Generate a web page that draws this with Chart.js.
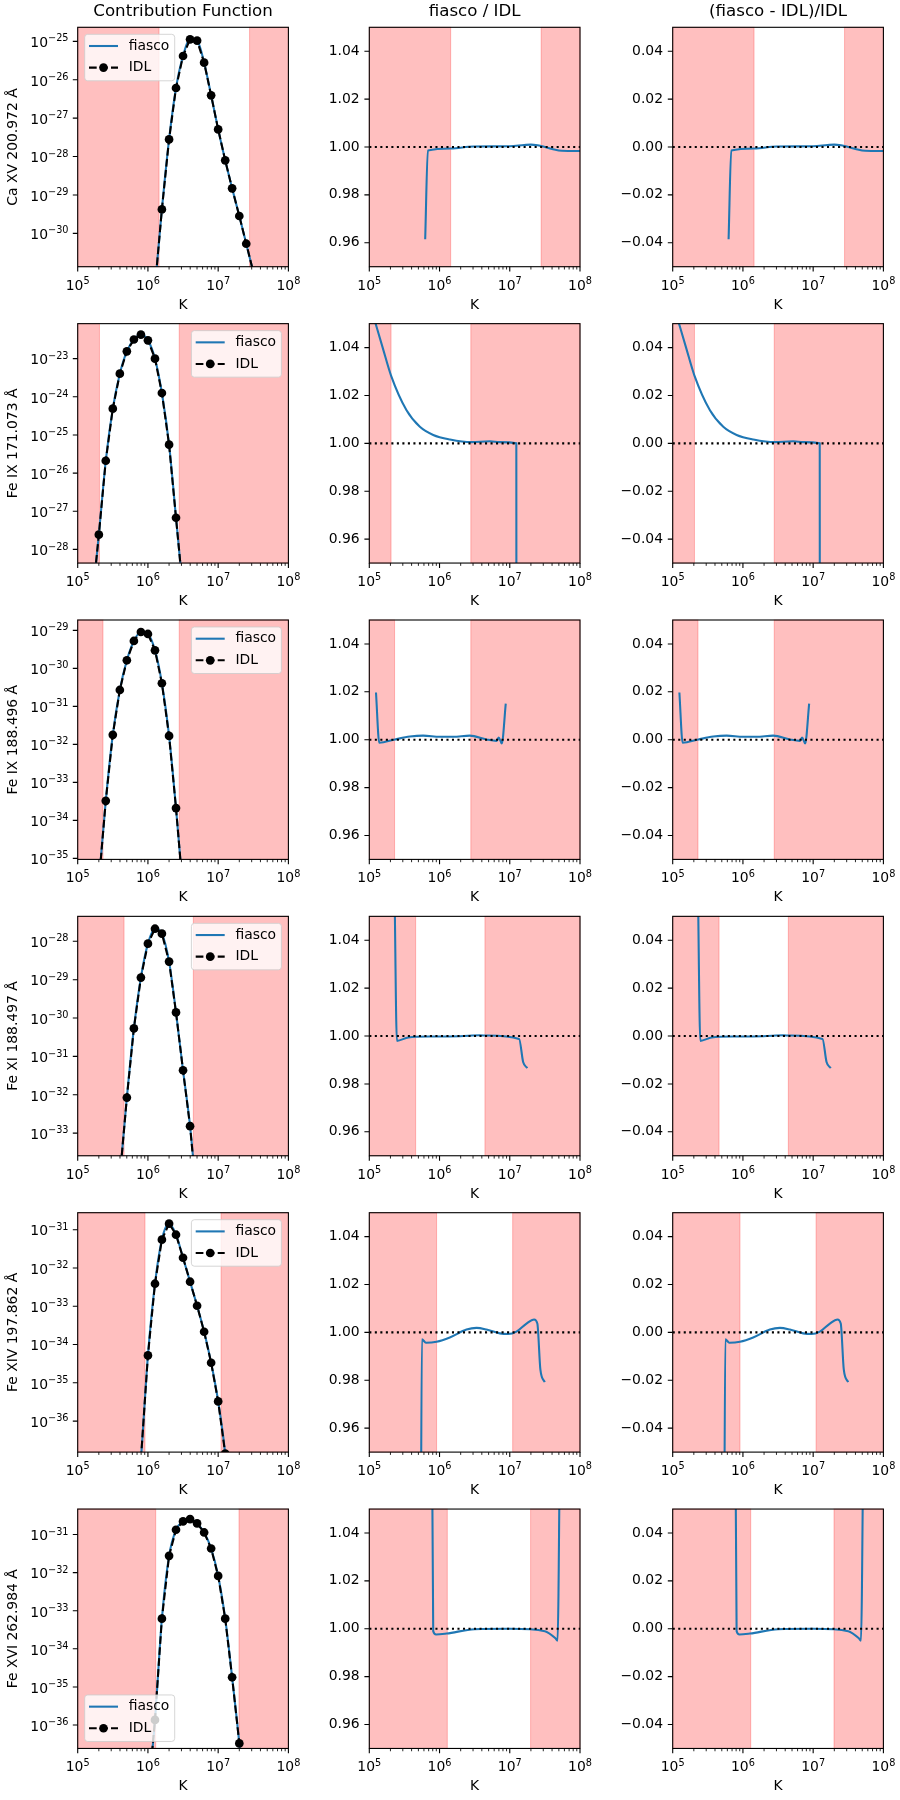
<!DOCTYPE html>
<html><head><meta charset="utf-8">
<script src="https://cdn.jsdelivr.net/npm/chart.js@4.4.0/dist/chart.umd.min.js"></script>
<style>
html,body{margin:0;padding:0;background:#fff;width:900px;height:1800px;overflow:hidden;position:relative;}
canvas{position:absolute;}
</style></head><body>
<script>
// ---------------- DATA ----------------
const columnTitles = ["Contribution Function", "fiasco / IDL", "(fiasco - IDL)/IDL"];
const lineLabels = ["Ca XV 200.972 Å", "Fe IX 171.073 Å", "Fe IX 188.496 Å", "Fe XI 188.497 Å", "Fe XIV 197.862 Å", "Fe XVI 262.984 Å"];
const xTickValues = [1e5, 1e6, 1e7, 1e8];
const ratioTicks = [0.96, 0.98, 1.00, 1.02, 1.04];
const diffTicks = [-0.04, -0.02, 0.00, 0.02, 0.04];

// contribution functions (K, erg cm^3 s^-1 sr^-1)
const tempCaXV = [1.26e6, 1.58e6, 2.00e6, 2.51e6, 3.16e6, 3.98e6, 5.01e6, 6.31e6, 7.94e6, 1.00e7, 1.26e7, 1.58e7, 2.00e7, 2.51e7, 3.16e7];
const gCaXV = [4.0e-32, 4.2e-30, 2.8e-28, 6.1e-27, 4.15e-26, 1.13e-25, 1.04e-25, 2.78e-26, 3.93e-27, 5.1e-28, 7.96e-29, 1.49e-29, 2.83e-30, 5.38e-31, 1.0e-31];
const tempFeIX171 = [1.58e5, 2.00e5, 2.51e5, 3.16e5, 3.98e5, 5.01e5, 6.31e5, 7.94e5, 1.00e6, 1.26e6, 1.58e6, 2.00e6, 2.51e6, 3.16e6];
const gFeIX171 = [3.2e-30, 2.43e-28, 2.11e-26, 4.89e-25, 4.05e-24, 1.56e-23, 3.18e-23, 4.26e-23, 3.02e-23, 1.0e-23, 1.26e-24, 5.56e-26, 6.76e-28, 7.9e-30];
const tempFeIX188 = [2.00e5, 2.51e5, 3.16e5, 3.98e5, 5.01e5, 6.31e5, 7.94e5, 1.00e6, 1.26e6, 1.58e6, 2.00e6, 2.51e6, 3.16e6];
const gFeIX188 = [2.34e-36, 3.27e-34, 1.78e-32, 2.7e-31, 1.63e-30, 5.25e-30, 9.03e-30, 8.02e-30, 2.98e-30, 4.05e-31, 1.67e-32, 2.1e-34, 1.38e-36];
const tempFeXI = [3.98e5, 5.01e5, 6.31e5, 7.94e5, 1.00e6, 1.26e6, 1.58e6, 2.00e6, 2.51e6, 3.16e6, 3.98e6, 5.01e6];
const gFeXI = [7.1e-35, 8.45e-33, 5.37e-31, 1.135e-29, 8.69e-29, 2.13e-28, 1.58e-28, 2.96e-29, 1.4e-30, 4.35e-32, 1.52e-33, 1.6e-35];
const tempFeXIV = [6.31e5, 7.94e5, 1.00e6, 1.26e6, 1.58e6, 2.00e6, 2.51e6, 3.16e6, 3.98e6, 5.01e6, 6.31e6, 7.94e6, 1.00e7, 1.26e7, 1.58e7];
const gFeXIV = [1e-39, 1e-37, 5.2e-35, 3.88e-33, 5.48e-32, 1.44e-31, 7.4e-32, 1.85e-32, 4.38e-33, 1.03e-33, 2.16e-34, 3.34e-35, 3.27e-36, 1.41e-37, 1e-39];
const tempFeXVI = [1.00e6, 1.26e6, 1.58e6, 2.00e6, 2.51e6, 3.16e6, 3.98e6, 5.01e6, 6.31e6, 7.94e6, 1.00e7, 1.26e7, 1.58e7, 2.00e7, 2.51e7];
const gFeXVI = [1.26e-38, 1.36e-36, 6.17e-34, 2.75e-32, 1.33e-31, 2.2e-31, 2.54e-31, 1.95e-31, 1.13e-31, 4.29e-32, 8.17e-33, 6.17e-34, 1.79e-35, 3.3e-37, 3.2e-39];

// y limits of contribution function panels
const gYMin = [1.355e-31, 4.39e-29, 9.4e-36, 2.58e-34, 1.55e-37, 2.43e-37];
const gYMax = [2.32e-25, 8.28e-23, 1.87e-29, 4.47e-28, 2.78e-31, 4.65e-31];

// shaded (excluded) temperature ranges
const shadeLow = [1.44e6, 2.04e5, 2.29e5, 4.57e5, 9.08e5, 1.29e6];
const shadeHigh = [2.8e7, 2.79e6, 2.79e6, 4.43e6, 1.10e7, 1.98e7];
const legendLoc = ["upper left", "upper right", "upper right", "upper right", "upper right", "lower left"];

// fiasco / IDL ratio
const rTempCaXV = [6.25e5, 6.82e5, 1.45e6, 3.0e6, 1.0e7, 1.6e7, 2.0e7, 2.5e7, 3.0e7, 4.0e7, 5.5e7, 1.0e8];
const rCaXV = [0.9615, 0.9985, 0.9994, 1.0002, 1.0003, 1.0008, 1.0010, 1.0007, 1.0002, 0.9992, 0.9984, 0.9983];
const rTempFeIX171 = [1.0e5, 1.23e5, 1.55e5, 2.04e5, 3.39e5, 5.25e5, 8.13e5, 1.41e6, 2.82e6, 5.2e6, 7.21e6, 1.24e7, 1.26e7];
const rFeIX171 = [1.059, 1.050, 1.040, 1.0283, 1.0138, 1.0069, 1.0035, 1.0016, 1.0005, 1.0009, 1.0005, 1.0000, 0.50];
const rTempFeIX188 = [1.245e5, 1.387e5, 2.32e5, 3.78e5, 5.86e5, 1.01e6, 1.56e6, 2.70e6, 4.66e6, 6.46e6, 6.98e6, 7.69e6, 8.77e6];
const rFeIX188 = [1.0197, 0.9987, 1.0001, 1.0013, 1.0017, 1.0012, 1.0012, 1.0017, 1.0001, 0.9995, 1.0009, 0.9984, 1.0151];
const rTempFeXI = [2.29e5, 2.47e5, 3.59e5, 8.13e5, 1.95e6, 3.74e6, 4.66e6, 1.36e7, 1.55e7, 1.78e7];
const rFeXI = [1.06, 0.998, 0.9994, 0.9998, 0.9999, 1.0003, 1.0002, 0.9988, 0.9892, 0.9866];
const rTempFeXIV = [5.40e5, 5.61e5, 6.40e5, 9.06e5, 1.40e6, 2.42e6, 3.36e6, 4.66e6, 7.21e6, 9.46e6, 1.245e7, 1.73e7, 2.22e7, 2.47e7, 2.73e7, 3.15e7];
const rFeXIV = [0.90, 0.9971, 0.9957, 0.9961, 0.9979, 1.0012, 1.0019, 1.0012, 0.9996, 0.9993, 1.0003, 1.0037, 1.0054, 1.0037, 0.9844, 0.9792];
const rTempFeXVI = [7.76e5, 8.13e5, 8.91e5, 1.26e6, 3.16e6, 1.0e7, 3.16e7, 4.47e7, 4.79e7, 5.25e7];
const rFeXVI = [1.10, 0.999, 0.9976, 0.998, 0.9998, 1.0, 0.999, 0.996, 0.995, 1.10];

const gTemps = [tempCaXV, tempFeIX171, tempFeIX188, tempFeXI, tempFeXIV, tempFeXVI];
const gVals = [gCaXV, gFeIX171, gFeIX188, gFeXI, gFeXIV, gFeXVI];
const rTemps = [rTempCaXV, rTempFeIX171, rTempFeIX188, rTempFeXI, rTempFeXIV, rTempFeXVI];
const rVals = [rCaXV, rFeIX171, rFeIX188, rFeXI, rFeXIV, rFeXVI];

// ---------------- STYLE / LAYOUT ----------------
const FONT = "DejaVu Sans";
const FS = 13.9, FS_EXP = 9.73;
const BLUE = '#1f77b4';
const W_AX = 210.7, H_AX = 239.4;
const colAxLeft = [77.7, 369.3, 672.7];
const colCanvasLeft = [0, 300, 600];
const colCanvasWidth = [320, 320, 300];
const rowAxTop = r => 27.3 + 296.35 * r;
const TOPM = 28, BOTM = 50;
const fmtSigned = v => (v < -1e-9 ? '−' : '') + Math.abs(v).toFixed(2);

// draws "10" with a raised exponent (as matplotlib mathtext does)
function drawPow(ctx, value, x, baseline, align) {
  const e = Math.round(Math.log10(value));
  const expStr = (e < 0 ? '−' : '') + Math.abs(e);
  ctx.font = FS + 'px "' + FONT + '"';
  const wb = ctx.measureText('10').width;
  ctx.font = FS_EXP + 'px "' + FONT + '"';
  const we = ctx.measureText(expStr).width;
  const total = wb + we;
  const x0 = align === 'right' ? x - total : x - total / 2;
  ctx.textAlign = 'left';
  ctx.textBaseline = 'alphabetic';
  ctx.font = FS + 'px "' + FONT + '"';
  ctx.fillText('10', x0, baseline);
  ctx.font = FS_EXP + 'px "' + FONT + '"';
  ctx.fillText(expStr, x0 + wb, baseline - 5.7);
}

const decorPlugin = {
  id: 'decor',
  beforeDatasetsDraw(chart, args, opts) {
    const {ctx, chartArea: a} = chart;
    const x = chart.scales.x;
    ctx.save();
    ctx.fillStyle = 'rgba(255,0,0,0.25)';
    ctx.strokeStyle = 'rgba(255,0,0,0.25)';
    ctx.lineWidth = 1;
    for (const [lo, hi] of opts.spans) {
      const x0 = x.getPixelForValue(lo), x1 = x.getPixelForValue(hi);
      ctx.fillRect(x0, a.top, x1 - x0, a.bottom - a.top);
      ctx.strokeRect(x0, a.top, x1 - x0, a.bottom - a.top);
    }
    ctx.restore();
  },
  afterDatasetsDraw(chart, args, opts) {
    const {ctx, chartArea: a} = chart;
    const x = chart.scales.x, y = chart.scales.y;
    ctx.save();
    ctx.strokeStyle = '#000';
    ctx.lineWidth = 1.1;
    ctx.beginPath();
    for (const v of xTickValues) {
      const px = x.getPixelForValue(v);
      ctx.moveTo(px, a.bottom); ctx.lineTo(px, a.bottom + 4.9);
    }
    for (const t of y.ticks) {
      const py = y.getPixelForValue(t.value);
      ctx.moveTo(a.left, py); ctx.lineTo(a.left - 4.9, py);
    }
    ctx.stroke();
    ctx.lineWidth = 0.85;
    ctx.beginPath();
    for (let d = 5; d < 8; d++) {
      for (let k = 2; k <= 9; k++) {
        const px = x.getPixelForValue(k * Math.pow(10, d));
        ctx.moveTo(px, a.bottom); ctx.lineTo(px, a.bottom + 2.8);
      }
    }
    ctx.stroke();
    ctx.lineWidth = 1.1;
    ctx.strokeRect(a.left, a.top, a.right - a.left, a.bottom - a.top);
    // power-of-ten tick labels
    ctx.fillStyle = '#000';
    for (const v of xTickValues) drawPow(ctx, v, x.getPixelForValue(v), a.bottom + 22.8, 'center');
    if (y.type === 'logarithmic') {
      for (const t of y.ticks) drawPow(ctx, t.value, a.left - 9.2, y.getPixelForValue(t.value) + 5.8, 'right');
    }
    ctx.restore();
  },
  afterDraw(chart, args, opts) {
    if (!opts.legend) return;
    const {ctx, chartArea: a} = chart;
    const bw = 90, bh = 46.5, pad = 7;
    const bx = opts.legend === 'upper right' ? a.right - pad - bw : a.left + pad;
    const by = opts.legend === 'lower left' ? a.bottom - pad - bh : a.top + pad;
    ctx.save();
    ctx.beginPath();
    ctx.roundRect(bx, by, bw, bh, 3);
    ctx.fillStyle = 'rgba(255,255,255,0.8)';
    ctx.fill();
    ctx.strokeStyle = 'rgba(204,204,204,0.8)';
    ctx.lineWidth = 1;
    ctx.stroke();
    const y1 = by + 11.7, y2 = by + 33.3;
    ctx.lineWidth = 2.08;
    ctx.strokeStyle = BLUE;
    ctx.beginPath(); ctx.moveTo(bx + 4.3, y1); ctx.lineTo(bx + 33.3, y1); ctx.stroke();
    ctx.strokeStyle = '#000';
    ctx.setLineDash([7.7, 3.3]);
    ctx.beginPath(); ctx.moveTo(bx + 4.3, y2); ctx.lineTo(bx + 33.3, y2); ctx.stroke();
    ctx.setLineDash([]);
    ctx.fillStyle = '#000';
    ctx.beginPath(); ctx.arc(bx + 18.8, y2, 4.35, 0, Math.PI * 2); ctx.fill();
    ctx.font = FS + 'px "' + FONT + '"';
    ctx.textBaseline = 'middle';
    ctx.textAlign = 'left';
    ctx.fillText('fiasco', bx + 44, y1);
    ctx.fillText('IDL', bx + 44, y2);
    ctx.restore();
  }
};
Chart.register(decorPlugin);

function pts(xs, ys) { return xs.map((t, i) => ({x: t, y: ys[i]})); }

function makeChart(r, c) {
  const axTop = rowAxTop(r);
  const cTop = Math.floor(axTop - TOPM);
  const padTop = axTop - cTop;
  const cH = Math.ceil(padTop + H_AX + BOTM);
  const cW = colCanvasWidth[c];
  const cL = colCanvasLeft[c];
  const yW = colAxLeft[c] - cL;
  const cv = document.createElement('canvas');
  cv.width = cW; cv.height = cH;
  cv.style.left = cL + 'px'; cv.style.top = cTop + 'px';
  cv.style.width = cW + 'px'; cv.style.height = cH + 'px';
  document.body.appendChild(cv);

  const font = {family: FONT, size: FS};
  let datasets, yScale;
  if (c === 0) {
    const data = pts(gTemps[r], gVals[r]);
    datasets = [
      {label: 'IDL', data, borderColor: '#000', backgroundColor: '#000', borderWidth: 2.08, borderDash: [7.7, 3.3],
       pointRadius: 4.35, pointBackgroundColor: '#000', pointBorderWidth: 0, order: 0, clip: 0},
      {label: 'fiasco', data, borderColor: BLUE, borderWidth: 2.08, pointRadius: 0,
       cubicInterpolationMode: 'monotone', order: 1, clip: 0}
    ];
    yScale = {
      type: 'logarithmic', min: gYMin[r], max: gYMax[r], position: 'left',
      grid: {display: false, drawTicks: false}, border: {display: false},
      ticks: {display: false},
      afterBuildTicks: s => {
        const t = [];
        for (let e = Math.ceil(Math.log10(s.min) - 1e-9); e <= Math.floor(Math.log10(s.max) + 1e-9); e++) t.push({value: Math.pow(10, e)});
        s.ticks = t;
      },
      afterFit: s => { s.width = yW; },
      title: {display: true, text: lineLabels[r], color: '#000', font, padding: {top: 5.5, bottom: 0}}
    };
  } else {
    const isDiff = c === 2;
    const vals = isDiff ? rVals[r].map(v => v - 1) : rVals[r];
    const ref = isDiff ? 0 : 1;
    datasets = [
      {label: 'ref', data: [{x: 1e5, y: ref}, {x: 1e8, y: ref}], borderColor: '#000', borderWidth: 2.08,
       borderDash: [2.08, 3.43], pointRadius: 0, order: 0, clip: 0},
      {label: 'ratio', data: pts(rTemps[r], vals), borderColor: BLUE, borderWidth: 2.08, pointRadius: 0,
       cubicInterpolationMode: 'monotone', order: 1, clip: 0}
    ];
    yScale = {
      type: 'linear', min: isDiff ? -0.05 : 0.95, max: isDiff ? 0.05 : 1.05, position: 'left',
      grid: {display: false, drawTicks: false}, border: {display: false},
      ticks: {padding: 9.7, color: '#000', font, callback: v => fmtSigned(v)},
      afterBuildTicks: s => { s.ticks = (isDiff ? diffTicks : ratioTicks).map(v => ({value: v})); },
      afterFit: s => { s.width = yW; }
    };
  }
  const titleOpts = r === 0
    ? {display: true, text: columnTitles[c], color: '#000', font: {family: FONT, size: 16.67, weight: 'normal'},
       fullSize: false, padding: {top: 2.5, bottom: padTop - 22.5}}
    : {display: false};
  new Chart(cv, {
    type: 'line',
    data: {datasets},
    options: {
      responsive: false, animation: false, devicePixelRatio: 1, events: [],
      layout: {autoPadding: false, padding: {left: 0, top: r === 0 ? 0 : padTop, right: cW - yW - W_AX, bottom: cH - padTop - H_AX - BOTM}},
      scales: {
        x: {
          type: 'logarithmic', min: 1e5, max: 1e8, position: 'bottom',
          grid: {display: false, drawTicks: false}, border: {display: false},
          ticks: {display: false},
          afterBuildTicks: s => { s.ticks = xTickValues.map(v => ({value: v})); },
          afterFit: s => { s.height = BOTM; },
          title: {display: true, text: 'K', color: '#000', font, padding: {top: 0, bottom: 3.4}}
        },
        y: yScale
      },
      plugins: {
        legend: {display: false}, tooltip: {enabled: false},
        title: titleOpts,
        decor: {spans: [[1e5, shadeLow[r]], [shadeHigh[r], 1e8]], legend: c === 0 ? legendLoc[r] : null}
      }
    }
  });
}

for (let r = 0; r < 6; r++) for (let c = 0; c < 3; c++) makeChart(r, c);
</script>
</body></html>
